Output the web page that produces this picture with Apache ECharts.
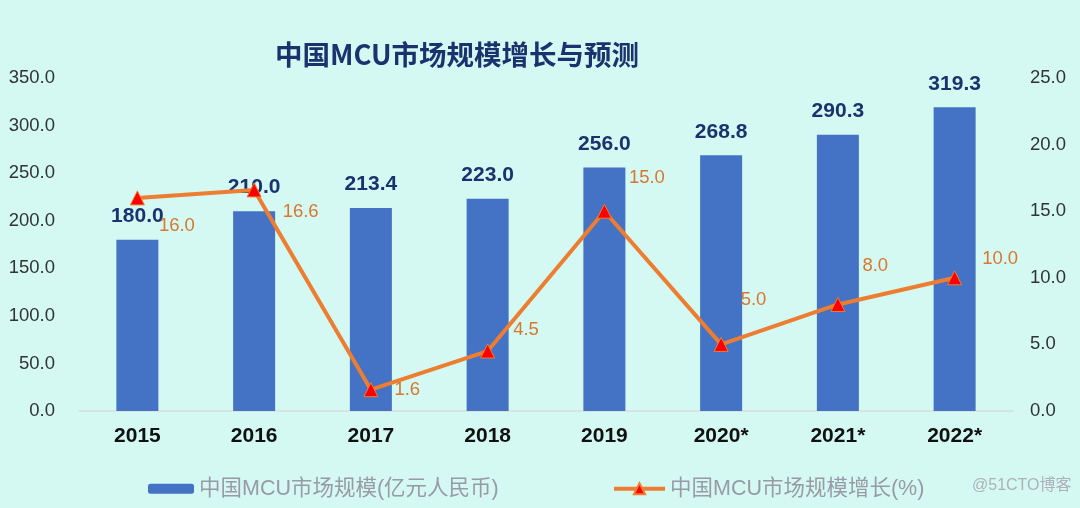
<!DOCTYPE html>
<html><head><meta charset="utf-8">
<script src="https://cdn.jsdelivr.net/npm/echarts@6/dist/echarts.min.js"></script>
<style>html,body{margin:0;padding:0;background:#d3f9f2}#c{width:1080px;height:508px}</style>
</head><body><div id="c"></div>
<script>
const categories = ['2015','2016','2017','2018','2019','2020*','2021*','2022*'];
const marketSize = [180.0, 210.0, 213.4, 223.0, 256.0, 268.8, 290.3, 319.3];
const growth = [16.0, 16.6, 1.6, 4.5, 15.0, 5.0, 8.0, 10.0];
const leftTicks = {min: 0, max: 350, interval: 50};
const rightTicks = {min: 0, max: 25, interval: 5};
// label placement (style only)
const growthLabelOffsets = [[9,28],[16,22],[11,0],[13,-21],[12,-33],[7,-44],[12,-39],[15,-19]];

const chart = echarts.init(document.getElementById('c'));
const sans = 'Liberation Sans, Arial, Noto Sans CJK SC, sans-serif';
chart.setOption({
  backgroundColor: '#d3f9f2',
  title: {
    text: '中国MCU市场规模增长与预测',
    left: 452, top: 36, textAlign: 'center',
    textStyle: {color: '#1a336e', fontSize: 27.5, fontWeight: 'bold', fontFamily: 'Noto Sans CJK SC, sans-serif'}
  },
  grid: {left: 79, right: 67, top: 78, bottom: 97},
  legend: [
    {data: ['中国MCU市场规模(亿元人民币)'], left: 143, top: 473, itemWidth: 46, itemHeight: 10, itemGap: 8,
     textStyle: {color: '#9a9aa6', fontSize: 21.5, fontFamily: sans}},
    {data: ['中国MCU市场规模增长(%)'], left: 607, top: 473, itemWidth: 51, itemHeight: 14, itemGap: 5,
     lineStyle: {width: 4},
     textStyle: {color: '#9a9aa6', fontSize: 21.5, fontFamily: sans}}
  ],
  xAxis: {
    type: 'category', data: categories,
    axisLine: {lineStyle: {color: '#dcdcdc', width: 1.5}},
    axisTick: {show: false},
    axisLabel: {color: '#111', fontSize: 21, fontWeight: 'bold', margin: 15, fontFamily: sans}
  },
  yAxis: [
    {type: 'value', min: leftTicks.min, max: leftTicks.max, interval: leftTicks.interval,
     splitLine: {show: false}, axisLine: {show: false}, axisTick: {show: false},
     axisLabel: {color: '#333', fontSize: 18.5, margin: 24, fontFamily: sans, formatter: v => v.toFixed(1)}},
    {type: 'value', min: rightTicks.min, max: rightTicks.max, interval: rightTicks.interval,
     splitLine: {show: false}, axisLine: {show: false}, axisTick: {show: false},
     axisLabel: {color: '#333', fontSize: 18.5, margin: 17, fontFamily: sans, formatter: v => v.toFixed(1)}}
  ],
  series: [
    {name: '中国MCU市场规模(亿元人民币)', type: 'bar', data: marketSize, barWidth: 42,
     itemStyle: {color: '#4472c4'},
     label: {show: true, position: 'top', distance: 13, color: '#1a336e', fontSize: 21, fontWeight: 'bold',
       fontFamily: sans, formatter: p => p.value.toFixed(1)}},
    {name: '中国MCU市场规模增长(%)', type: 'line', yAxisIndex: 1,
     data: growth.map((v, i) => ({value: v, label: {offset: growthLabelOffsets[i]}})),
     lineStyle: {color: '#ed7d31', width: 4},
     symbol: 'triangle', symbolSize: 14,
     itemStyle: {color: '#ff0000', borderColor: '#ed7d31', borderWidth: 1},
     label: {show: true, position: 'right', color: '#d9772f', fontSize: 18.5, fontFamily: sans,
       formatter: p => p.value.toFixed(1)}}
  ],
  graphic: [{type: 'text', left: 972, top: 478,
    style: {text: '@51CTO博客', fill: '#b0b0b8', font: '16px Liberation Sans, Noto Sans CJK SC, sans-serif'}}]
});
</script></body></html>
